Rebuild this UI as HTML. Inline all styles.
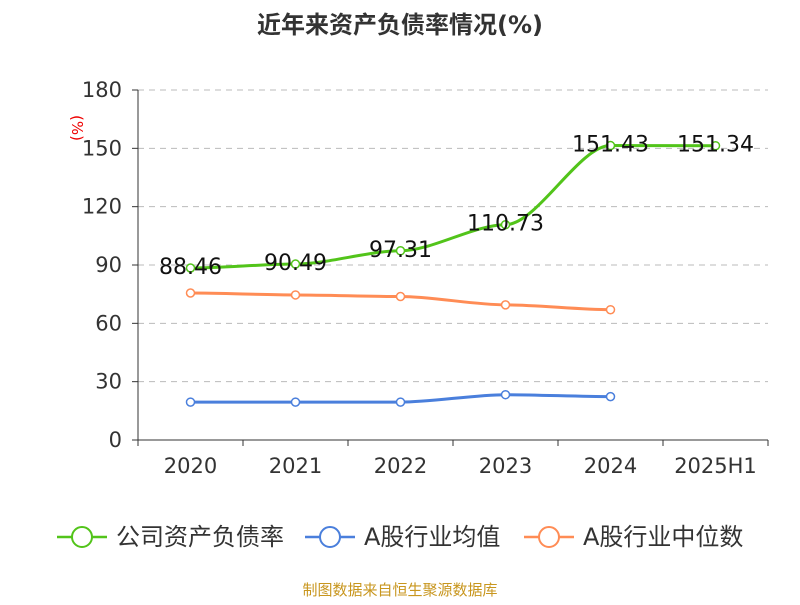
<!DOCTYPE html>
<html><head><meta charset="utf-8"><style>
body{margin:0;background:#fff;}
svg text{font-family:"DejaVu Sans","Noto Sans CJK SC",sans-serif;}
</style></head><body>
<svg id="c" width="800" height="600" xmlns="http://www.w3.org/2000/svg">
<text x="400" y="33" text-anchor="middle" font-size="24" font-weight="bold" fill="#333">近年来资产负债率情况(%)</text>
<text x="72" y="128" font-size="15" fill="#e00" transform="rotate(90 72 128)" text-anchor="middle">(%)</text>
<g id="grid"></g><g id="axes"></g><g id="series"></g>
<g>
<g><line x1="57" y1="537" x2="107" y2="537" stroke="#52c41a" stroke-width="2.5"/><circle cx="82" cy="537" r="10" fill="#fff" stroke="#52c41a" stroke-width="2"/><text x="116" y="545" font-size="24" fill="#333">公司资产负债率</text></g>
<g><line x1="305" y1="537" x2="355" y2="537" stroke="#4a7fdc" stroke-width="2.5"/><circle cx="330" cy="537" r="10" fill="#fff" stroke="#4a7fdc" stroke-width="2"/><text x="364" y="545" font-size="24" fill="#333">A股行业均值</text></g>
<g><line x1="524" y1="537" x2="574" y2="537" stroke="#ff8c55" stroke-width="2.5"/><circle cx="549" cy="537" r="10" fill="#fff" stroke="#ff8c55" stroke-width="2"/><text x="583" y="545" font-size="24" fill="#333">A股行业中位数</text></g>
</g>
<text x="400" y="595" text-anchor="middle" font-size="15" fill="#c8961e">制图数据来自恒生聚源数据库</text>
</svg>
<script>
const categories=["2020","2021","2022","2023","2024","2025H1"];
const companyVals=[88.46,90.49,97.31,110.73,151.43,151.34];
const avgVals=[19.5,19.5,19.5,23.3,22.3];
const medianVals=[75.6,74.6,73.8,69.5,67];
const yTicks=[0,30,60,90,120,150,180];
const NS="http://www.w3.org/2000/svg";
const x0=138,x1=768,yb=440,yt=90,ymax=180;
const bw=(x1-x0)/categories.length;
const X=i=>x0+bw*(i+0.5);
const Y=v=>yb-(v/ymax)*(yb-yt);
function mk(tag,attrs,parent,txt){const e=document.createElementNS(NS,tag);for(const k in attrs)e.setAttribute(k,attrs[k]);if(txt!==undefined)e.textContent=txt;document.getElementById(parent).appendChild(e);return e;}
yTicks.forEach(t=>{
 if(t>0){const l=mk('line',{x1:x0,x2:x1,y1:Y(t),y2:Y(t),stroke:'#bbb','stroke-dasharray':'6,5'},'grid');
 
 }
 const tk=mk('line',{x1:x0-6,x2:x0,y1:Y(t),y2:Y(t),stroke:'#333'},'axes');
 
 
 const lb=mk('text',{x:x0-16,y:Y(t)+7,'text-anchor':'end','font-size':21,fill:'#333'},'axes',t);
 
 
});
const ya=mk('line',{x1:x0,x2:x0,y1:yt,y2:yb,stroke:'#333'},'axes');


const xa=mk('line',{x1:x0,x2:x1,y1:yb,y2:yb,stroke:'#333'},'axes');


for(let i=0;i<=categories.length;i++){const t=mk('line',{x1:x0+bw*i,x2:x0+bw*i,y1:yb,y2:yb+6,stroke:'#333'},'axes');
 
 }
categories.forEach((c,i)=>{const t=mk('text',{x:X(i),y:473,'text-anchor':'middle','font-size':21,fill:'#333'},'axes',c);
 
 });
function series(vals,color,name,labels){
 const pts=vals.map((v,i)=>[X(i),Y(v)]);
 let d='M'+pts[0].join(',');
 for(let i=1;i<pts.length;i++){const p=pts[i-1],q=pts[i];const cx=(q[0]-p[0])*0.3;d+=` C${p[0]+cx},${p[1]} ${q[0]-cx},${q[1]} ${q[0]},${q[1]}`;}
 const path=mk('path',{d,fill:'none',stroke:color,'stroke-width':3},'series');
 
 
 pts.forEach((p,i)=>{const c=mk('circle',{cx:p[0],cy:p[1],r:4,fill:'#fff',stroke:color,'stroke-width':1.5},'series');
  
  
 });
 if(labels)pts.forEach((p,i)=>{const t=mk('text',{x:p[0],y:p[1]+6,'text-anchor':'middle','font-size':22,fill:'#111'},'series',vals[i].toFixed(2));
  
  });
}
series(medianVals,'#ff8c55','industry-median',false);
series(avgVals,'#4a7fdc','industry-avg',false);
series(companyVals,'#52c41a','company',true);
</script>
</body></html>
